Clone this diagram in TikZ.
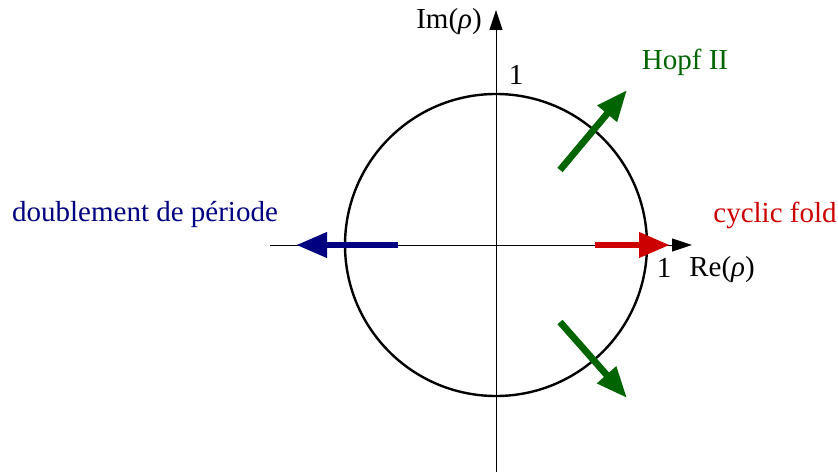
\documentclass[tikz,border=0pt]{standalone}
\usepackage{fontspec}
\setmainfont{Liberation Serif}
\usetikzlibrary{positioning,arrows.meta}
\definecolor{pdblue}{RGB}{0,0,128}
\definecolor{cfred}{RGB}{204,0,0}
\definecolor{hpgreen}{RGB}{0,100,0}
\tikzset{
  axe/.style={line width=0.5pt, -{Triangle[length=10pt, width=6.5pt]}},
  cercle/.style={line width=1.2pt},
  fleche/.style={line width=3.4pt, -{Triangle[length=15.5pt, width=12pt]}},
  lbl/.style={font=\fontsize{14.5}{17}\selectfont, inner sep=1pt},
}
\begin{document}
\begin{tikzpicture}[x=0.5pt, y=0.5pt]
\useasboundingbox (0,0) rectangle (838,472);
%% ---- le cercle unite et les axes
\coordinate (O) at (496,227);
\coordinate (xg) at (270,227);
\coordinate (xd) at (692,227);
\coordinate (yb) at (496,0);
\coordinate (yh) at (496,462);
\draw[cercle] (O) circle[radius=151];
\draw[axe] (xg) -- (xd);
\draw[axe] (yb) -- (yh);
\node[lbl] (im) at (449,450) {Im(\textit{ρ})};
\node[lbl] (re) at (722,202) {Re(\textit{ρ})};
\node[lbl] (unx) at (664,204) {1};
\node[lbl] (uny) at (516,397) {1};

%% ---- les trois facons de sortir du cercle
\coordinate (pd0) at (398,227); \coordinate (pd1) at (296,227);
\coordinate (cf0) at (595,227); \coordinate (cf1) at (670,227);
\coordinate (hh0) at (560,302); \coordinate (hh1) at (627,382);
\coordinate (hb0) at (560,150); \coordinate (hb1) at (627,74);
\draw[fleche, pdblue] (pd0) -- (pd1);
\draw[fleche, cfred] (cf0) -- (cf1);
\draw[fleche, hpgreen] (hh0) -- (hh1);
\draw[fleche, hpgreen] (hb0) -- (hb1);

\node[lbl, text=pdblue] (pd) at (145,257) {doublement de période};
\node[lbl, text=cfred] (cf) at (775,257) {cyclic fold};
\node[lbl, text=hpgreen] (hopf) at (685,410) {Hopf II};
\end{tikzpicture}
\end{document}
